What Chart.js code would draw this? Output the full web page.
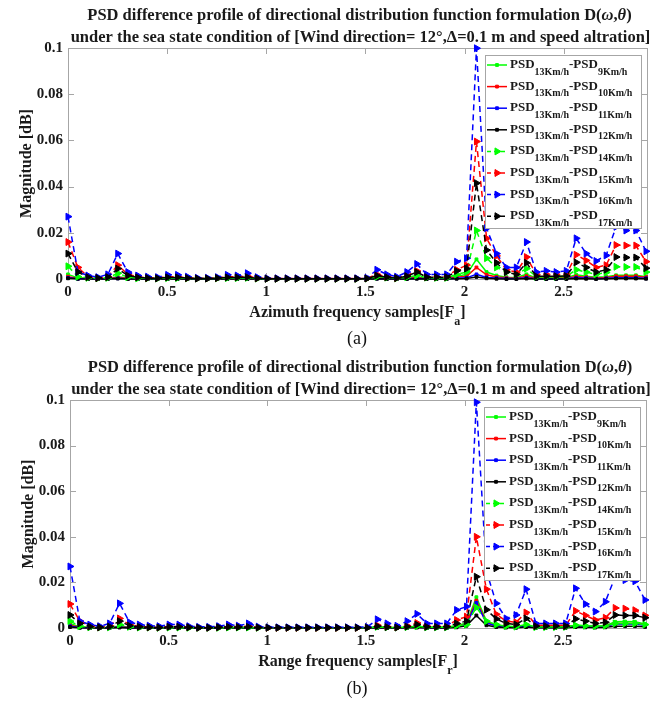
<!DOCTYPE html>
<html>
<head>
<meta charset="utf-8">
<script src="https://cdn.jsdelivr.net/npm/chart.js@4.4.1/dist/chart.umd.min.js"></script>
<style>
  html, body { margin: 0; padding: 0; background: #fff; }
  #wrap { position: relative; width: 663px; height: 702px; overflow: hidden; }
  canvas { position: absolute; left: 0; }
  .cap { position: absolute; left: 307px; width: 100px; text-align: center;
         font-family: "Liberation Serif", serif; font-size: 18px; color: #111; line-height: 20px; }
</style>
</head>
<body>
<div id="wrap">
  <canvas id="chartA" width="663" height="350" style="top:0"></canvas>
  <canvas id="chartB" width="663" height="350" style="top:352px"></canvas>
  <div class="cap" style="top:328px">(a)</div>
  <div class="cap" style="top:678px">(b)</div>
</div>
<script>
// Frequency samples (shared by both panels)
const X_SAMPLES = [
  0.000, 0.050, 0.101, 0.151, 0.201, 0.251, 0.302, 0.352, 0.402, 0.452,
  0.503, 0.553, 0.603, 0.653, 0.704, 0.754, 0.804, 0.854, 0.905, 0.955,
  1.005, 1.055, 1.106, 1.156, 1.206, 1.256, 1.307, 1.357, 1.407, 1.457,
  1.508, 1.558, 1.608, 1.658, 1.709, 1.759, 1.809, 1.859, 1.910, 1.960,
  2.010, 2.060, 2.111, 2.161, 2.211, 2.261, 2.312, 2.362, 2.412, 2.462,
  2.513, 2.563, 2.613, 2.663, 2.714, 2.764, 2.814, 2.864, 2.915
];

const SPEEDS = ['9Km/h', '10Km/h', '11Km/h', '12Km/h', '14Km/h', '15Km/h', '16Km/h', '17Km/h'];
const Y_TICKS_MAX = 0.1;
const X_MAX = 2.92;

// (a) Azimuth panel
const azPsd9 = [
  0.0020, 0.0005, 0.0003, 0.0002, 0.0003, 0.0010, 0.0004, 0.0002, 0.0002, 0.0002,
  0.0003, 0.0003, 0.0002, 0.0001, 0.0001, 0.0002, 0.0003, 0.0003, 0.0004, 0.0002,
  0.0001, 0.0001, 0.0001, 0.0001, 0.0001, 0.0001, 0.0001, 0.0001, 0.0001, 0.0001,
  0.0002, 0.0006, 0.0004, 0.0002, 0.0005, 0.0010, 0.0004, 0.0003, 0.0003, 0.0012,
  0.0020, 0.0085, 0.0030, 0.0015, 0.0008, 0.0007, 0.0020, 0.0005, 0.0005, 0.0005,
  0.0006, 0.0018, 0.0012, 0.0008, 0.0010, 0.0016, 0.0016, 0.0016, 0.0010
];
const azPsd10 = [
  0.0010, 0.0003, 0.0002, 0.0001, 0.0002, 0.0006, 0.0002, 0.0001, 0.0001, 0.0001,
  0.0002, 0.0002, 0.0001, 0.0001, 0.0001, 0.0001, 0.0002, 0.0002, 0.0002, 0.0001,
  0.0001, 0.0001, 0.0001, 0.0001, 0.0001, 0.0001, 0.0001, 0.0001, 0.0001, 0.0001,
  0.0001, 0.0004, 0.0002, 0.0001, 0.0003, 0.0006, 0.0002, 0.0002, 0.0002, 0.0008,
  0.0012, 0.0050, 0.0018, 0.0009, 0.0005, 0.0004, 0.0012, 0.0003, 0.0003, 0.0003,
  0.0004, 0.0011, 0.0008, 0.0005, 0.0006, 0.0012, 0.0012, 0.0012, 0.0008
];
const azPsd11 = [
  0.0005, 0.0001, 0.0001, 0.0000, 0.0001, 0.0003, 0.0001, 0.0000, 0.0000, 0.0000,
  0.0001, 0.0001, 0.0000, 0.0000, 0.0000, 0.0000, 0.0001, 0.0001, 0.0001, 0.0000,
  0.0000, 0.0000, 0.0000, 0.0000, 0.0000, 0.0000, 0.0000, 0.0000, 0.0000, 0.0000,
  0.0000, 0.0002, 0.0001, 0.0000, 0.0001, 0.0003, 0.0001, 0.0001, 0.0001, 0.0003,
  0.0005, 0.0020, 0.0007, 0.0004, 0.0002, 0.0002, 0.0005, 0.0001, 0.0001, 0.0001,
  0.0002, 0.0005, 0.0004, 0.0002, 0.0003, 0.0005, 0.0005, 0.0005, 0.0003
];
const azPsd12 = [
  0.0003, 0.0001, 0.0000, 0.0000, 0.0000, 0.0002, 0.0000, 0.0000, 0.0000, 0.0000,
  0.0000, 0.0000, 0.0000, 0.0000, 0.0000, 0.0000, 0.0000, 0.0000, 0.0000, 0.0000,
  0.0000, 0.0000, 0.0000, 0.0000, 0.0000, 0.0000, 0.0000, 0.0000, 0.0000, 0.0000,
  0.0000, 0.0001, 0.0000, 0.0000, 0.0000, 0.0001, 0.0000, 0.0000, 0.0000, 0.0001,
  0.0002, 0.0009, 0.0003, 0.0001, 0.0000, 0.0000, 0.0002, 0.0000, 0.0000, 0.0000,
  0.0000, 0.0002, 0.0001, 0.0000, 0.0001, 0.0002, 0.0002, 0.0002, 0.0001
];
const azPsd14 = [
  0.0055, 0.0010, 0.0005, 0.0003, 0.0005, 0.0025, 0.0008, 0.0003, 0.0003, 0.0002,
  0.0004, 0.0004, 0.0003, 0.0002, 0.0002, 0.0003, 0.0004, 0.0004, 0.0005, 0.0002,
  0.0001, 0.0001, 0.0001, 0.0001, 0.0001, 0.0001, 0.0001, 0.0001, 0.0001, 0.0001,
  0.0002, 0.0010, 0.0006, 0.0003, 0.0008, 0.0015, 0.0006, 0.0005, 0.0005, 0.0020,
  0.0030, 0.0210, 0.0090, 0.0050, 0.0030, 0.0020, 0.0045, 0.0010, 0.0010, 0.0010,
  0.0012, 0.0040, 0.0030, 0.0020, 0.0028, 0.0053, 0.0052, 0.0052, 0.0030
];
const azPsd15 = [
  0.0160, 0.0050, 0.0010, 0.0005, 0.0010, 0.0060, 0.0020, 0.0010, 0.0005, 0.0005,
  0.0010, 0.0010, 0.0005, 0.0003, 0.0003, 0.0005, 0.0010, 0.0010, 0.0012, 0.0004,
  0.0002, 0.0002, 0.0002, 0.0002, 0.0002, 0.0002, 0.0002, 0.0002, 0.0002, 0.0002,
  0.0003, 0.0020, 0.0010, 0.0005, 0.0015, 0.0035, 0.0010, 0.0010, 0.0010, 0.0040,
  0.0060, 0.0595, 0.0176, 0.0100, 0.0040, 0.0030, 0.0095, 0.0020, 0.0020, 0.0020,
  0.0020, 0.0105, 0.0080, 0.0050, 0.0060, 0.0147, 0.0145, 0.0145, 0.0075
];
const azPsd16 = [
  0.0270, 0.0030, 0.0015, 0.0008, 0.0020, 0.0110, 0.0030, 0.0015, 0.0010, 0.0008,
  0.0018, 0.0018, 0.0010, 0.0005, 0.0005, 0.0008, 0.0018, 0.0015, 0.0025, 0.0008,
  0.0003, 0.0003, 0.0003, 0.0003, 0.0003, 0.0003, 0.0003, 0.0003, 0.0003, 0.0003,
  0.0005, 0.0040, 0.0020, 0.0010, 0.0030, 0.0065, 0.0020, 0.0020, 0.0020, 0.0075,
  0.0090, 0.0999, 0.0220, 0.0110, 0.0050, 0.0050, 0.0160, 0.0030, 0.0035, 0.0030,
  0.0035, 0.0176, 0.0110, 0.0078, 0.0102, 0.0226, 0.0210, 0.0210, 0.0120
];
const azPsd17 = [
  0.0110, 0.0030, 0.0008, 0.0004, 0.0008, 0.0045, 0.0015, 0.0007, 0.0004, 0.0003,
  0.0007, 0.0007, 0.0004, 0.0002, 0.0002, 0.0004, 0.0007, 0.0007, 0.0008, 0.0003,
  0.0001, 0.0001, 0.0001, 0.0001, 0.0001, 0.0001, 0.0001, 0.0001, 0.0001, 0.0001,
  0.0002, 0.0015, 0.0008, 0.0004, 0.0012, 0.0030, 0.0008, 0.0008, 0.0008, 0.0035,
  0.0045, 0.0415, 0.0125, 0.0070, 0.0030, 0.0020, 0.0070, 0.0012, 0.0012, 0.0012,
  0.0013, 0.0072, 0.0050, 0.0030, 0.0040, 0.0095, 0.0093, 0.0093, 0.0047
];

// (b) Range panel
const rgPsd9 = [
  0.0020, 0.0005, 0.0003, 0.0002, 0.0003, 0.0008, 0.0003, 0.0002, 0.0002, 0.0001,
  0.0002, 0.0002, 0.0001, 0.0001, 0.0001, 0.0001, 0.0002, 0.0002, 0.0002, 0.0001,
  0.0001, 0.0001, 0.0001, 0.0001, 0.0001, 0.0001, 0.0001, 0.0001, 0.0001, 0.0001,
  0.0001, 0.0004, 0.0002, 0.0001, 0.0003, 0.0006, 0.0003, 0.0003, 0.0003, 0.0010,
  0.0022, 0.0135, 0.0030, 0.0012, 0.0006, 0.0005, 0.0012, 0.0004, 0.0004, 0.0004,
  0.0005, 0.0012, 0.0010, 0.0008, 0.0010, 0.0027, 0.0028, 0.0027, 0.0018
];
const rgPsd10 = [
  0.0012, 0.0003, 0.0002, 0.0001, 0.0002, 0.0005, 0.0002, 0.0001, 0.0001, 0.0001,
  0.0001, 0.0001, 0.0001, 0.0001, 0.0001, 0.0001, 0.0001, 0.0001, 0.0002, 0.0001,
  0.0001, 0.0001, 0.0001, 0.0001, 0.0001, 0.0001, 0.0001, 0.0001, 0.0001, 0.0001,
  0.0001, 0.0003, 0.0002, 0.0001, 0.0002, 0.0005, 0.0002, 0.0002, 0.0002, 0.0008,
  0.0018, 0.0120, 0.0025, 0.0010, 0.0005, 0.0004, 0.0010, 0.0003, 0.0003, 0.0003,
  0.0004, 0.0010, 0.0008, 0.0006, 0.0008, 0.0020, 0.0020, 0.0020, 0.0014
];
const rgPsd11 = [
  0.0008, 0.0002, 0.0001, 0.0001, 0.0001, 0.0004, 0.0001, 0.0001, 0.0000, 0.0000,
  0.0001, 0.0001, 0.0000, 0.0000, 0.0000, 0.0000, 0.0001, 0.0001, 0.0001, 0.0000,
  0.0000, 0.0000, 0.0000, 0.0000, 0.0000, 0.0000, 0.0000, 0.0000, 0.0000, 0.0000,
  0.0000, 0.0002, 0.0001, 0.0000, 0.0002, 0.0004, 0.0001, 0.0001, 0.0001, 0.0006,
  0.0015, 0.0110, 0.0022, 0.0009, 0.0004, 0.0003, 0.0009, 0.0002, 0.0002, 0.0002,
  0.0003, 0.0009, 0.0007, 0.0005, 0.0007, 0.0018, 0.0018, 0.0018, 0.0012
];
const rgPsd12 = [
  0.0004, 0.0001, 0.0000, 0.0000, 0.0000, 0.0002, 0.0000, 0.0000, 0.0000, 0.0000,
  0.0000, 0.0000, 0.0000, 0.0000, 0.0000, 0.0000, 0.0000, 0.0000, 0.0000, 0.0000,
  0.0000, 0.0000, 0.0000, 0.0000, 0.0000, 0.0000, 0.0000, 0.0000, 0.0000, 0.0000,
  0.0000, 0.0001, 0.0000, 0.0000, 0.0001, 0.0002, 0.0000, 0.0000, 0.0000, 0.0003,
  0.0010, 0.0055, 0.0012, 0.0004, 0.0002, 0.0001, 0.0004, 0.0001, 0.0001, 0.0001,
  0.0001, 0.0004, 0.0003, 0.0002, 0.0003, 0.0008, 0.0008, 0.0008, 0.0005
];
const rgPsd14 = [
  0.0030, 0.0008, 0.0003, 0.0002, 0.0003, 0.0015, 0.0005, 0.0002, 0.0002, 0.0001,
  0.0002, 0.0002, 0.0001, 0.0001, 0.0001, 0.0001, 0.0002, 0.0002, 0.0002, 0.0001,
  0.0001, 0.0001, 0.0001, 0.0001, 0.0001, 0.0001, 0.0001, 0.0001, 0.0001, 0.0001,
  0.0001, 0.0005, 0.0003, 0.0002, 0.0004, 0.0008, 0.0003, 0.0003, 0.0003, 0.0010,
  0.0015, 0.0090, 0.0030, 0.0015, 0.0008, 0.0006, 0.0015, 0.0004, 0.0004, 0.0004,
  0.0005, 0.0012, 0.0010, 0.0008, 0.0010, 0.0020, 0.0020, 0.0020, 0.0015
];
const rgPsd15 = [
  0.0105, 0.0030, 0.0008, 0.0004, 0.0010, 0.0042, 0.0015, 0.0007, 0.0004, 0.0003,
  0.0007, 0.0007, 0.0004, 0.0002, 0.0002, 0.0004, 0.0007, 0.0006, 0.0008, 0.0003,
  0.0001, 0.0001, 0.0001, 0.0001, 0.0001, 0.0001, 0.0001, 0.0001, 0.0001, 0.0001,
  0.0002, 0.0012, 0.0006, 0.0003, 0.0010, 0.0022, 0.0008, 0.0008, 0.0008, 0.0035,
  0.0050, 0.0400, 0.0170, 0.0060, 0.0030, 0.0025, 0.0068, 0.0012, 0.0012, 0.0012,
  0.0012, 0.0075, 0.0055, 0.0035, 0.0045, 0.0088, 0.0085, 0.0078, 0.0055
];
const rgPsd16 = [
  0.0270, 0.0030, 0.0015, 0.0008, 0.0020, 0.0108, 0.0025, 0.0015, 0.0010, 0.0008,
  0.0015, 0.0015, 0.0008, 0.0005, 0.0005, 0.0008, 0.0015, 0.0010, 0.0020, 0.0006,
  0.0003, 0.0003, 0.0003, 0.0003, 0.0003, 0.0003, 0.0003, 0.0003, 0.0003, 0.0003,
  0.0005, 0.0038, 0.0020, 0.0010, 0.0030, 0.0062, 0.0020, 0.0020, 0.0020, 0.0079,
  0.0094, 0.0990, 0.0250, 0.0108, 0.0042, 0.0057, 0.0170, 0.0020, 0.0020, 0.0020,
  0.0020, 0.0174, 0.0105, 0.0072, 0.0115, 0.0225, 0.0210, 0.0205, 0.0123
];
const rgPsd17 = [
  0.0057, 0.0020, 0.0006, 0.0003, 0.0006, 0.0030, 0.0010, 0.0005, 0.0003, 0.0002,
  0.0005, 0.0005, 0.0003, 0.0001, 0.0001, 0.0003, 0.0005, 0.0004, 0.0005, 0.0002,
  0.0001, 0.0001, 0.0001, 0.0001, 0.0001, 0.0001, 0.0001, 0.0001, 0.0001, 0.0001,
  0.0001, 0.0008, 0.0004, 0.0002, 0.0006, 0.0015, 0.0005, 0.0005, 0.0005, 0.0020,
  0.0030, 0.0225, 0.0080, 0.0040, 0.0020, 0.0015, 0.0042, 0.0008, 0.0008, 0.0008,
  0.0008, 0.0040, 0.0030, 0.0020, 0.0025, 0.0057, 0.0055, 0.0055, 0.0045
];

const FONT = '"Liberation Serif", "Times New Roman", serif';
const TEXT_COLOR = '#1a1a1a';
const FRAME_COLOR = '#a6a6a6';
const LINE_COLORS = ['#00ff00', '#ff0000', '#0000ff', '#000000'];

const TITLE_1 = [
  { t: 'PSD difference profile of directional distribution function formulation D(' },
  { t: '\u03c9', it: true }, { t: ',' }, { t: '\u03b8', it: true }, { t: ')' }
];
const TITLE_2 = [{ t: 'under the sea state condition of [Wind direction= 12\u00b0,\u0394=0.1 m and speed altration]' }];

// draw a run of text pieces, some of them subscripts
function drawRich(ctx, parts, x, y, size, align) {
    const fontFor = p => `${p.it ? 'italic ' : ''}bold ${p.sub ? Math.round(size * 0.78) : size}px ${FONT}`;
    let w = 0;
    parts.forEach(p => { ctx.font = fontFor(p); w += ctx.measureText(p.t).width; });
    let cx = align === 'center' ? x - w / 2 : x;
    parts.forEach(p => {
        ctx.font = fontFor(p);
        ctx.fillText(p.t, cx, p.sub ? y + size * 0.5 : y);
        cx += ctx.measureText(p.t).width;
    });
}

// "PSD_{13Km/h}-PSD_{9Km/h}" -> pieces
function labelParts(label) {
    const bits = label.split(/_\{([^}]*)\}/);
    return bits.filter(b => b !== '').map(b => ({ t: b, sub: label.includes('_{' + b + '}') }));
}

function drawMarker(ctx, ds, x, y) {
    ctx.beginPath();
    if (ds.pointStyle === 'triangle') {
        const r = ds.pointRadius;
        ctx.moveTo(x + r, y);
        ctx.lineTo(x - r * 0.5, y - r * 0.87);
        ctx.lineTo(x - r * 0.5, y + r * 0.87);
    } else {
        const s = ds.pointRadius * 1.4;
        ctx.rect(x - s / 2, y - s / 2, s, s);
    }
    ctx.closePath();
    ctx.fill();
    ctx.stroke();
}

const framePlugin = {
    id: 'frame',
    beforeDatasetsDraw(chart) {
        const { ctx, chartArea: a, scales } = chart;
        ctx.save();
        ctx.strokeStyle = FRAME_COLOR;
        ctx.lineWidth = 1;
        ctx.strokeRect(Math.round(a.left) + 0.5, Math.round(a.top) + 0.5,
            Math.round(a.right - a.left), Math.round(a.bottom - a.top));
        ctx.beginPath();
        scales.x.ticks.forEach(t => {
            const px = Math.round(scales.x.getPixelForValue(t.value)) + 0.5;
            ctx.moveTo(px, a.bottom); ctx.lineTo(px, a.bottom - 6);
            ctx.moveTo(px, a.top); ctx.lineTo(px, a.top + 6);
        });
        scales.y.ticks.forEach(t => {
            const py = Math.round(scales.y.getPixelForValue(t.value)) + 0.5;
            ctx.moveTo(a.left, py); ctx.lineTo(a.left + 6, py);
            ctx.moveTo(a.right, py); ctx.lineTo(a.right - 6, py);
        });
        ctx.stroke();
        ctx.restore();
    },
    afterDraw(chart, args, opts) {
        const { ctx, chartArea: a } = chart;
        const midX = (a.left + a.right) / 2;
        ctx.save();
        ctx.fillStyle = TEXT_COLOR;
        ctx.textAlign = 'left';
        ctx.textBaseline = 'alphabetic';

        // titles
        drawRich(ctx, TITLE_1, midX + 2, a.top - 28, 16.5, 'center');
        drawRich(ctx, TITLE_2, midX + 3, a.top - 6, 16.5, 'center');

        // x axis title
        drawRich(ctx, opts.xTitle, midX, a.bottom + 38, 16, 'center');

        // y axis title
        ctx.save();
        ctx.translate(a.left - 43, (a.top + a.bottom) / 2);
        ctx.rotate(-Math.PI / 2);
        drawRich(ctx, [{ t: 'Magnitude [dB]' }], 0, 6, 16, 'center');
        ctx.restore();

        // legend
        const box = { left: a.right - 162, right: a.right - 6, top: a.top + 7, height: 173 };
        ctx.fillStyle = '#fff';
        ctx.fillRect(box.left, box.top, box.right - box.left, box.height);
        ctx.strokeStyle = FRAME_COLOR;
        ctx.lineWidth = 1;
        ctx.strokeRect(Math.round(box.left) + 0.5, Math.round(box.top) + 0.5,
            Math.round(box.right - box.left), box.height);
        chart.data.datasets.forEach((ds, i) => {
            const cy = box.top + 10 + 21.6 * i;
            ctx.save();
            ctx.strokeStyle = ds.borderColor;
            ctx.fillStyle = ds.backgroundColor;
            ctx.lineWidth = 1.5;
            ctx.setLineDash(ds.borderDash.length ? [4, 3] : []);
            ctx.beginPath();
            ctx.moveTo(box.left + 2, cy);
            ctx.lineTo(box.left + 22, cy);
            ctx.stroke();
            ctx.setLineDash([]);
            ctx.lineWidth = 1;
            drawMarker(ctx, ds, box.left + 12, cy);
            ctx.restore();
            ctx.fillStyle = TEXT_COLOR;
            drawRich(ctx, labelParts(ds.label), box.left + 25, cy + 3, 13, 'left');
        });
        ctx.restore();
    }
};

function buildDatasets(seriesList) {
    return seriesList.map((ys, i) => {
        const dashed = i >= 4;
        const color = LINE_COLORS[i % 4];
        return {
            label: `PSD_{13Km/h}-PSD_{${SPEEDS[i]}}`,
            data: X_SAMPLES.map((x, k) => ({ x: x, y: ys[k] })),
            borderColor: color,
            backgroundColor: color,
            borderWidth: 1.5,
            borderDash: dashed ? [6, 4] : [],
            pointStyle: dashed ? 'triangle' : 'rect',
            pointRotation: dashed ? 90 : 0,
            pointRadius: dashed ? 4 : 2,
            pointBorderWidth: 1,
            tension: 0,
            clip: false,
            order: 7 - i
        };
    });
}

function makeChart(canvasId, seriesList, xTitle, axisLeft, padRight, padBottom) {
    const tickFont = { family: FONT, size: 15, weight: 'bold' };
    return new Chart(document.getElementById(canvasId), {
        type: 'line',
        data: { datasets: buildDatasets(seriesList) },
        plugins: [framePlugin],
        options: {
            responsive: false,
            animation: false,
            devicePixelRatio: 1,
            layout: { padding: { top: 48, right: padRight, bottom: padBottom, left: 0 } },
            plugins: {
                legend: { display: false },
                title: { display: false },
                tooltip: { enabled: false },
                frame: { xTitle: xTitle }
            },
            scales: {
                x: {
                    type: 'linear',
                    min: 0,
                    max: X_MAX,
                    afterFit: s => { s.height = 20; },
                    grid: { display: false, drawTicks: false },
                    border: { display: false },
                    ticks: {
                        stepSize: 0.5,
                        includeBounds: false,
                        autoSkip: false,
                        maxRotation: 0,
                        padding: 4,
                        color: TEXT_COLOR,
                        font: tickFont,
                        callback: v => String(+v.toFixed(2))
                    }
                },
                y: {
                    min: 0,
                    max: Y_TICKS_MAX,
                    afterFit: s => { s.width = axisLeft; },
                    grid: { display: false, drawTicks: false },
                    border: { display: false },
                    ticks: {
                        stepSize: 0.02,
                        padding: 5,
                        color: TEXT_COLOR,
                        font: tickFont,
                        callback: v => String(+v.toFixed(2))
                    }
                }
            }
        }
    });
}

makeChart('chartA',
    [azPsd9, azPsd10, azPsd11, azPsd12, azPsd14, azPsd15, azPsd16, azPsd17],
    [{ t: 'Azimuth frequency samples[F' }, { t: 'a', sub: true }, { t: ']' }],
    68, 16, 51);

makeChart('chartB',
    [rgPsd9, rgPsd10, rgPsd11, rgPsd12, rgPsd14, rgPsd15, rgPsd16, rgPsd17],
    [{ t: 'Range frequency samples[F' }, { t: 'r', sub: true }, { t: ']' }],
    70, 17, 54);
</script>
</body>
</html>
